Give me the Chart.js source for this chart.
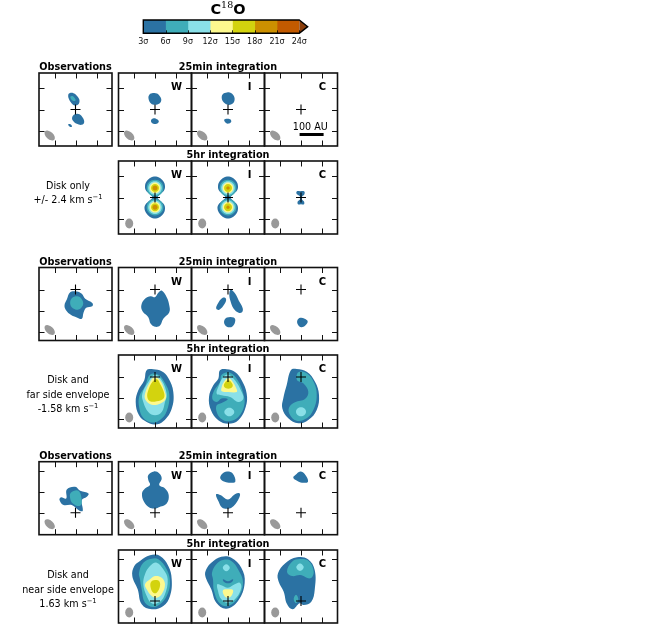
<!DOCTYPE html>
<html>
<head>
<meta charset="utf-8">
<script src="https://cdn.jsdelivr.net/npm/chart.js@4"></script>
<style>
    body { margin: 0; background: #fff; font-family: "DejaVu Sans", sans-serif; color: #000; }
    canvas { position: absolute; }
    .t { position: absolute; white-space: nowrap; line-height: 1; transform: translate(-50%, -50%); }
    .b { font-weight: bold; font-size: 9.7px; }
    .side { font-size: 9.6px; }
    .mark { font-weight: bold; font-size: 10px; }
    sup { font-size: 70%; line-height: 0; }
    #cmap { font-weight: bold; font-size: 14.5px; }
    #cmap sup { font-family: "DejaVu Serif", serif; font-weight: normal; font-size: 9.5px; }
</style>
</head>
<body>
<script>
// colourbar
const levels = [3, 6, 9, 12, 15, 18, 21, 24];
const levelColors = ['#2b72a3', '#3fadb9', '#8ae0e8', '#fdf98e', '#d3d30e', '#cc9000', '#c25a00'];
const overColor = '#8a3d0a';

// tick positions in map offset units, one unit is about a pixel
const xTicks = [-21, 0, 21];
const yTicksMid = [-21, 0, 21];
const yTicksLow = [-42, -21, 0];
const yTicksHigh = [0, 21, 42];

// contours, each one is [level index, [[x, y], ...]]
const obs1 = [
    [0, [[-6, 16.3], [-2, 16.3], [2, 13], [4, 9], [2.7, 5], [-0.7, 4], [-4, 6.3], [-6.7, 10.7], [-7.3, 14.3]]],
    [1, [[-5, 13], [-3, 13.5], [-0.5, 11], [0, 9], [-2, 8.5], [-4.5, 10.5]]],
    [0, [[-0.7, -4.7], [4, -4.7], [7.3, -8.3], [8.7, -12.7], [6.3, -15.3], [1.3, -14.3], [-2.7, -11], [-3.3, -7.7]]],
    [0, [[-7.3, -15], [-5.5, -14.5], [-3.5, -16.5], [-4, -17.5], [-6, -17]]]
];
const w1 = [
    [0, [[-6.5, 11], [-5.5, 15], [-2, 16.5], [2, 16], [5, 13], [6.3, 9.5], [4.5, 6], [0, 4.8], [-4, 6]]],
    [0, [[-4, -11], [-2, -9], [1, -9.2], [3.7, -11.3], [3, -13.5], [0, -14.5], [-3, -13.5]]]
];
const i1 = [
    [0, [[-6.3, 12], [-5, 15.5], [-1, 17], [3, 16.5], [6.3, 12.5], [6, 7.5], [3, 5], [-1, 5], [-5, 8]]],
    [0, [[-3.7, -10], [2, -9.7], [3.3, -12], [1, -14], [-2, -13.5]]]
];
const c1 = [];

const diskOuter = [[-2.5, 0], [-5, 3], [-9, 7], [-10, 11], [-8.5, 16], [-4, 20], [0, 21], [4, 20], [8.5, 16], [10, 11], [9, 7], [5, 3], [2.5, 0], [5, -3], [9, -7], [10, -11], [8.5, -16], [4, -20], [0, -21], [-4, -20], [-8.5, -16], [-10.5, -11], [-9.5, -7], [-5.5, -3]];
const diskRings = [
    [1, [[-8.3, 9.5], [-5.9, 15.4], [0, 17.8], [5.9, 15.4], [8.3, 9.5], [5.9, 3.6], [0, 1.2], [-5.9, 3.6]]],
    [1, [[-8.3, -9.7], [-5.9, -3.8], [0, -1.4], [5.9, -3.8], [8.3, -9.7], [5.9, -15.6], [0, -18], [-5.9, -15.6]]],
    [2, [[-6.8, 9.5], [-4.8, 14.3], [0, 16.3], [4.8, 14.3], [6.8, 9.5], [4.8, 4.7], [0, 2.7], [-4.8, 4.7]]],
    [2, [[-6.8, -9.7], [-4.8, -4.9], [0, -2.9], [4.8, -4.9], [6.8, -9.7], [4.8, -14.5], [0, -16.5], [-4.8, -14.5]]],
    [3, [[-5.4, 9.5], [-3.8, 13.3], [0, 14.9], [3.8, 13.3], [5.4, 9.5], [3.8, 5.7], [0, 4.1], [-3.8, 5.7]]],
    [3, [[-5.4, -9.7], [-3.8, -5.9], [0, -4.3], [3.8, -5.9], [5.4, -9.7], [3.8, -13.5], [0, -15.1], [-3.8, -13.5]]],
    [4, [[-4, 9.5], [-2.8, 12.3], [0, 13.5], [2.8, 12.3], [4, 9.5], [2.8, 6.7], [0, 5.5], [-2.8, 6.7]]],
    [4, [[-4, -9.7], [-2.8, -6.9], [0, -5.7], [2.8, -6.9], [4, -9.7], [2.8, -12.5], [0, -13.7], [-2.8, -12.5]]]
];
const w2 = [
    [0, diskOuter], ...diskRings,
    [5, [[-2.5, 9.5], [-1.8, 11.3], [0, 12], [1.8, 11.3], [2.5, 9.5], [1.8, 7.7], [0, 7], [-1.8, 7.7]]],
    [5, [[-2.5, -9.7], [-1.8, -7.9], [0, -7.2], [1.8, -7.9], [2.5, -9.7], [1.8, -11.5], [0, -12.2], [-1.8, -11.5]]]
];
const i2 = [
    [0, diskOuter], ...diskRings,
    [5, [[-1.8, 9.5], [0, 11.3], [1.8, 9.5], [0, 7.7]]],
    [5, [[-1.8, -9.7], [0, -7.9], [1.8, -9.7], [0, -11.5]]]
];
const c2 = [
    [0, [[-4.3, 6], [-1, 6.3], [3.3, 6], [3.3, 3], [1.3, 1.3], [1, 0], [1, -2], [3, -4], [3, -6.7], [0, -6.7], [-3, -6.7], [-3.3, -4], [-1, -2], [-1, 0], [-1.3, 1.5], [-4.3, 3.5]]]
];

const obs3 = [
    [0, [[-5.3, -2.7], [1.3, -2], [6.3, -4.3], [9.7, -9.3], [17, -13.7], [16.7, -16.7], [10.7, -18.3], [8, -23.3], [6.3, -29.3], [1.3, -28], [-4.7, -25.3], [-9.3, -21], [-11, -16], [-8.7, -10]]],
    [1, [[-3.7, -8.7], [3, -7], [7, -11], [7.3, -16], [3, -20], [-2.7, -18.7], [-5.3, -14.3]]]
];
const w3 = [
    [0, [[0, -7.7], [3.3, -3.3], [6.7, -1], [11.7, -7.7], [14.3, -16], [14.3, -22.7], [8.3, -29.3], [5, -36], [0, -37.3], [-4.3, -34.3], [-6.7, -27.7], [-12.3, -22], [-13.7, -16], [-10, -9.3], [-4.3, -6.7]]]
];
const i3 = [
    [0, [[2.7, -0.3], [7.3, -4.3], [10.7, -11], [14.7, -18.7], [14, -22.7], [10.7, -23.3], [5.7, -19.3], [2.3, -11], [1.3, -4.3]]],
    [0, [[-5.3, -8.3], [-2, -9.3], [-3.3, -14.3], [-8.7, -20.3], [-11.7, -19.3], [-10.7, -15]]],
    [0, [[-1, -28], [5.7, -28], [7.3, -31], [4.7, -36.7], [0, -37.7], [-3.3, -35], [-3.7, -31]]]
];
const c3 = [
    [0, [[-0.7, -28.3], [3.7, -29.3], [6.7, -32], [4.3, -36], [0.3, -37.7], [-3, -35.3], [-3.7, -31]]]
];

const w4 = [
    [0, [[-8.3, 6.7], [-1.7, 7.7], [6.7, 5.7], [13.3, -1], [18.3, -15], [16.7, -31.7], [8.3, -44.3], [0, -47.5], [-8.3, -45], [-16, -38.3], [-19.3, -25], [-16.7, -13.3], [-10.7, -3.3]]],
    [1, [[-5, 2.3], [3.3, 2.3], [10, -6], [14.3, -17.7], [11.7, -34.3], [5, -43], [-3.3, -45.5], [-11.7, -41], [-15.7, -31], [-15.7, -19.3], [-10, -9.3]]],
    [2, [[0, 2.3], [6.7, -3.3], [11.7, -16.7], [10, -25], [6.7, -35], [0, -38.3], [-6.7, -35], [-11.7, -25], [-12.7, -16.7], [-6.7, -5]]],
    [3, [[-4, -3.3], [0, 0], [5, -3.3], [10, -15], [10.7, -21.7], [5, -26.7], [-3.3, -27.7], [-9.3, -23.3], [-10, -16.7]]],
    [4, [[-2.7, -5], [1.7, -2.3], [5, -6.7], [9.3, -16.7], [8.3, -21.7], [1.7, -24.3], [-5, -24.3], [-7.7, -20], [-6.7, -13.3]]]
];
const i4 = [
    [0, [[-8, 6.7], [-1.3, 7.7], [7, 5], [13.7, -3.3], [18.7, -16.7], [17.7, -30], [10.3, -43.3], [0.3, -46.7], [-9.7, -43.3], [-17, -33.3], [-19, -20], [-14.7, -8.3], [-9.7, -1.7]]],
    [1, [[-6.3, 2.3], [2, 4.3], [9.7, -3.3], [15.3, -16.7], [16.3, -28.3], [10.3, -40], [1, -44.3], [-7, -41.7], [-11.3, -35], [-11.3, -28.3], [-6.3, -26], [-0.3, -22.3], [-6.3, -21.5], [-11.3, -25], [-15.7, -21.7], [-13.7, -13.3], [-8, -5]]],
    [2, [[-4.7, 0], [0.3, 2.3], [7, -3.3], [13.7, -15], [15.3, -21.7], [10.3, -25], [2, -20], [-6.3, -18.3], [-11.3, -16.7], [-9.7, -10]]],
    [2, [[-3.7, -35], [-2, -32], [1.3, -30.7], [4.6, -32], [6.3, -35], [4.6, -38], [1.3, -39.3], [-2, -38]]],
    [3, [[-3.7, -4.3], [0.3, -1], [3.7, -3.3], [8.7, -12.3], [8.7, -15], [0.3, -15], [-6.3, -14.3], [-6.3, -10]]],
    [4, [[-3.7, -6.7], [0.3, -3.3], [4.3, -6.7], [4.3, -10], [0.3, -11.7], [-3.7, -10]]]
];
const c4 = [
    [0, [[-10, 7], [-4.3, 8], [5.7, 5.3], [14, -4.7], [18, -18], [15.7, -33], [7.3, -43], [-2.7, -46.3], [-12.7, -41.3], [-18.7, -31.3], [-17.7, -21.3], [-14.3, -8]]],
    [1, [[-2.7, 4.7], [5.7, 3.7], [13.3, -6.3], [15.7, -19.7], [12.3, -33], [5.7, -41.3], [-4.3, -43.7], [-11, -38], [-12, -30.7], [-6, -25.3], [4, -22], [7.3, -14.7], [2.3, -6.3], [-4, -3]]],
    [2, [[-5, -34.7], [-3.5, -31.5], [0, -30.2], [3.5, -31.5], [5, -34.7], [3.5, -38], [0, -39.2], [-3.5, -38]]]
];

const obs5 = [
    [0, [[-8.7, 23.3], [-0.3, 26], [4.7, 22], [13, 19.3], [11.3, 16], [6.3, 12.7], [7.3, 2], [4, 2], [-3.7, 7.7], [-12, 7.7], [-16, 12.7], [-14.7, 15.3], [-9.3, 14.3]]],
    [1, [[-4.7, 20], [3, 22], [6.3, 11], [4, 6.7], [-2.7, 9.3], [-5.3, 14.3]]]
];
const w5 = [
    [0, [[-6.7, 37.7], [-1, 41.3], [4.3, 39.3], [6.7, 34.3], [4.3, 27.7], [10, 24.3], [13.7, 17.7], [11.7, 9.3], [3.3, 5.3], [0, 4.3], [-5.7, 5.3], [-11, 11], [-13, 19.3], [-10, 24.3], [-5, 27.7], [-6.7, 32.7]]]
];
const i5 = [
    [0, [[-6, 38.7], [-1, 41.3], [4.7, 39.3], [7.3, 31], [2.3, 30], [-3.3, 31], [-7.7, 34.3]]],
    [0, [[-12, 18.3], [-7.7, 17.7], [0, 13.3], [7.3, 18.7], [11.7, 19.3], [11.3, 15.3], [5.7, 6.7], [0, 4], [-6, 5.3], [-9.3, 11]]]
];
const c5 = [
    [0, [[-5.7, 37.7], [-0.7, 41.3], [3.7, 38.7], [7, 31], [1, 30], [-4, 32], [-7.7, 35]]]
];

const w6 = [
    [0, [[-15, 40], [-5, 45.7], [5, 45], [13.3, 35], [16.7, 21.7], [15, 5], [8.3, -5], [-3.3, -8.3], [-13.3, -3.3], [-17.3, 11.7], [-22.7, 25], [-20.7, 35]]],
    [1, [[-11.7, 38.3], [-3.3, 42.3], [3.3, 41.7], [11.7, 31.7], [15, 18.3], [11.7, 5], [5, -3.3], [-1.7, -6], [-10, -1.7], [-13.3, 11.7], [-15, 21.7], [-16, 28.3]]],
    [2, [[-5, 35], [1.7, 38.3], [8.3, 31.7], [12.7, 21.7], [9.3, 5], [3.3, -1.7], [-3.3, -2.3], [-8.3, 5], [-11.7, 16.7], [-10, 26.7]]],
    [3, [[-5, 21.7], [0, 25], [6.7, 23.3], [10, 16.7], [6.7, 6.7], [1.7, 3.3], [-3.3, 5], [-8.3, 11.7], [-10, 16.7]]],
    [4, [[-4, 19], [0, 21], [4, 20], [5, 15], [1.7, 8.3], [-1.7, 8.3], [-4.3, 13.3]]]
];
const i6 = [
    [0, [[-16.7, 38.3], [-6.7, 44.3], [3.3, 43.3], [13.3, 33.3], [16.7, 18.3], [10, 0], [-1.7, -7.7], [-11.7, -1.7], [-16.7, 11.7], [-22.7, 25], [-21.7, 31.7]]],
    [1, [[-11.7, 36.7], [-5, 41], [3.3, 40], [10, 31.7], [15, 18.3], [10, 3.3], [0, -5], [-8.3, -2.3], [-14, 10], [-15, 21.7], [-16, 28.3]]],
    [0, [[-5, 21.7], [0, 19.7], [5, 21.7], [4, 19], [0, 17.7], [-4, 19]]],
    [2, [[-5.2, 33.3], [-1.7, 36.8], [1.8, 33.3], [-1.7, 29.8]]],
    [2, [[-10.7, 16.7], [-6.7, 15.7], [0, 13.3], [6.7, 16.7], [11.7, 18.3], [13.3, 13.3], [8.3, 3.3], [0, -1.7], [-6.7, 1.7], [-10, 10]]],
    [3, [[-5, 10.7], [0, 11.7], [5, 11], [3.3, 5], [-0.7, 3.3], [-4, 5.7]]]
];
const c6 = [
    [0, [[-15.7, 37.7], [-4, 43.7], [7, 41.7], [13.7, 31], [13.7, 11], [10.3, -0.7], [2.7, -4], [-1.3, -2.3], [-8.3, -8.3], [-14, -3], [-17.3, 9.3], [-22.3, 19.3], [-23, 27.7]]],
    [1, [[-14, 29.3], [-9, 39.3], [-0.7, 42], [7.7, 40], [12.7, 29.3], [9.3, 22.7], [-0.7, 26], [-9, 25]]],
    [2, [[-4.7, 33.7], [-1, 37.4], [2.7, 33.7], [-1, 30]]],
    [1, [[-7.3, 2], [-5, 6.3], [-2.7, 2], [-5, -2.3]]]
];

const scaleBar = [[-1.4, -25], [22.6, -25]];

const BOX = 73;
const PAD = 4;
const colLefts = [39, 118.5, 191.5, 264.5];

// fills a contour, the line has one extra point on each end so the spline closes without a kink
const contourFill = {
    id: 'contourFill',
    beforeDatasetDraw(chart, args) {
        if (!chart.data.datasets[args.index].contour) return;
        const line = args.meta.dataset;
        const ctx = chart.ctx;
        ctx.save();
        ctx.beginPath();
        line.path(ctx, 1, line.points.length - 2);
        ctx.closePath();
        ctx.fillStyle = line.options.backgroundColor;
        ctx.fill();
        ctx.restore();
    }
};

const framePlugin = {
    id: 'frame',
    afterDatasetsDraw(chart) {
        const { ctx, chartArea: a, scales: { x, y } } = chart;
        const o = chart.options.plugins.frame;
        ctx.save();
        ctx.fillStyle = '#999';
        ctx.beginPath();
        ctx.ellipse(a.left + 10.7, a.bottom - 10.5, o.beam[0], o.beam[1], o.beam[2] * Math.PI / 180, 0, Math.PI * 2);
        ctx.fill();
        ctx.strokeStyle = '#111';
        ctx.lineWidth = 1;
        ctx.beginPath();
        xTicks.forEach((v) => {
            const px = Math.round(x.getPixelForValue(v)) + 0.5;
            ctx.moveTo(px, a.top);
            ctx.lineTo(px, a.top + 5.5);
            ctx.moveTo(px, a.bottom);
            ctx.lineTo(px, a.bottom - 5.5);
        });
        o.yTicks.forEach((v) => {
            const py = Math.round(y.getPixelForValue(v)) + 0.5;
            ctx.moveTo(a.left, py);
            ctx.lineTo(a.left + 5.5, py);
            ctx.moveTo(a.right, py);
            ctx.lineTo(a.right - 5.5, py);
        });
        ctx.stroke();
        ctx.lineWidth = 1.6;
        ctx.strokeRect(a.left, a.top, a.right - a.left, a.bottom - a.top);
        ctx.restore();
    }
};

const barEnds = {
    id: 'barEnds',
    afterDatasetsDraw(chart) {
        const { ctx, chartArea: a, scales: { x } } = chart;
        const end = x.getPixelForValue(24);
        const tip = x.getPixelForValue(25.13);
        const mid = (a.top + a.bottom) / 2;
        ctx.save();
        ctx.beginPath();
        ctx.moveTo(end, a.top);
        ctx.lineTo(tip, mid);
        ctx.lineTo(end, a.bottom);
        ctx.closePath();
        ctx.fillStyle = overColor;
        ctx.fill();
        ctx.strokeStyle = '#000';
        ctx.lineWidth = 1.4;
        ctx.beginPath();
        ctx.moveTo(end, a.top);
        ctx.lineTo(tip, mid);
        ctx.lineTo(end, a.bottom);
        ctx.lineTo(a.left, a.bottom);
        ctx.lineTo(a.left, a.top);
        ctx.closePath();
        ctx.stroke();
        ctx.lineWidth = 0.8;
        ctx.beginPath();
        levels.slice(1).forEach((v) => {
            const px = Math.round(x.getPixelForValue(v)) + 0.5;
            ctx.moveTo(px, a.bottom);
            ctx.lineTo(px, a.bottom - 3);
        });
        ctx.stroke();
        ctx.restore();
    }
};

function addText(html, x, y, cls, id) {
    const el = document.createElement('div');
    el.className = 't ' + cls;
    if (id) el.id = id;
    el.innerHTML = html;
    el.style.left = x + 'px';
    el.style.top = y + 'px';
    document.body.appendChild(el);
}

function addPanel(contours, col, top, yMin, yMax, yTicks, beam, extra) {
    const left = colLefts[col];
    const canvas = document.createElement('canvas');
    const cLeft = Math.floor(left) - PAD;
    const cTop = Math.floor(top) - PAD;
    canvas.width = BOX + PAD * 2 + 1;
    canvas.height = BOX + PAD * 2 + 1;
    canvas.style.left = cLeft + 'px';
    canvas.style.top = cTop + 'px';
    document.body.appendChild(canvas);

    const datasets = [{
        data: [{ x: 0, y: 0 }],
        pointStyle: 'cross',
        pointRadius: 5,
        pointBorderColor: '#000',
        pointBorderWidth: 1.1,
        showLine: false,
        order: -1
    }];
    contours.forEach(([lev, pts], i) => {
        const wrapped = [pts[pts.length - 1], ...pts, pts[0], pts[1]];
        datasets.push({
            data: wrapped.map(([x, y]) => ({ x, y })),
            contour: true,
            showLine: true,
            tension: 0.4,
            backgroundColor: levelColors[lev],
            borderWidth: 0,
            pointRadius: 0,
            order: contours.length - i
        });
    });
    if (extra) {
        datasets.push({
            data: extra.map(([x, y]) => ({ x, y })),
            showLine: true,
            borderColor: '#000',
            borderWidth: 3,
            pointRadius: 0,
            order: -2
        });
    }

    new Chart(canvas, {
        type: 'scatter',
        data: { datasets },
        options: {
            responsive: false,
            animation: false,
            events: [],
            layout: {
                autoPadding: false,
                padding: {
                    left: left - cLeft,
                    top: top - cTop,
                    right: canvas.width - (left - cLeft) - BOX,
                    bottom: canvas.height - (top - cTop) - BOX
                }
            },
            plugins: {
                legend: { display: false },
                tooltip: { enabled: false },
                frame: { yTicks, beam }
            },
            scales: {
                x: { display: false, min: -36.5, max: 36.5 },
                y: { display: false, min: yMin, max: yMax }
            }
        },
        plugins: [contourFill, framePlugin]
    });
}

const obsBeam = [6.2, 3.6, 42];
const simBeam = [4, 4.9, 0];
const letters = ['W', 'I', 'C'];

function addBlock(obsTop, simTop, yMin, yMax, yTicks, obsMap, obsRow, simRow, sideLines, sideYs) {
    addPanel(obsMap, 0, obsTop, yMin, yMax, yTicks, obsBeam);
    obsRow.forEach((c, i) => {
        addPanel(c, i + 1, obsTop, yMin, yMax, yTicks, obsBeam, (i === 2 && obsTop < 100) ? scaleBar : null);
        addText(letters[i], colLefts[i + 1] + 58, obsTop + 14.2, 'mark');
    });
    simRow.forEach((c, i) => {
        addPanel(c, i + 1, simTop, yMin, yMax, yTicks, simBeam);
        addText(letters[i], colLefts[i + 1] + 58, simTop + 14.2, 'mark');
    });
    addText('Observations', 75.5, obsTop - 6, 'b');
    addText('25min integration', 228, obsTop - 6, 'b');
    addText('5hr integration', 228, simTop - 6, 'b');
    sideLines.forEach((s, i) => addText(s, 68, sideYs[i], 'side'));
}

addBlock(73, 161, -36.5, 36.5, yTicksMid, obs1, [w1, i1, c1], [w2, i2, c2],
    ['Disk only', '+/- 2.4 km s<sup>\u22121</sup>'], [186, 200]);
addBlock(267.5, 355, -51, 22, yTicksLow, obs3, [w3, i3, c3], [w4, i4, c4],
    ['Disk and', 'far side envelope', '-1.58 km s<sup>\u22121</sup>'], [380, 395, 409]);
addBlock(461.7, 550, -22, 51, yTicksHigh, obs5, [w5, i5, c5], [w6, i6, c6],
    ['Disk and', 'near side envelope', '1.63 km s<sup>\u22121</sup>'], [575, 590, 604]);

addText('100 AU', 310.3, 126.7, 'side');
addText('C<sup>18</sup>O', 228, 9, '', 'cmap');

// colourbar as floating horizontal bars
const barCanvas = document.createElement('canvas');
barCanvas.width = 220;
barCanvas.height = 40;
barCanvas.style.left = '120px';
barCanvas.style.top = '10px';
document.body.appendChild(barCanvas);

new Chart(barCanvas, {
    type: 'bar',
    data: {
        labels: ['C18O'],
        datasets: levelColors.map((c, i) => ({
            data: [[levels[i], levels[i + 1]]],
            backgroundColor: c,
            grouped: false,
            barPercentage: 1,
            categoryPercentage: 1
        }))
    },
    options: {
        indexAxis: 'y',
        responsive: false,
        animation: false,
        events: [],
        layout: { autoPadding: false, padding: { left: 23.3, right: 40.7, top: 10, bottom: 0.7 } },
        plugins: { legend: { display: false }, tooltip: { enabled: false } },
        scales: {
            y: { display: false },
            x: {
                min: 3,
                max: 24,
                border: { display: false },
                grid: { display: false, drawTicks: false },
                afterFit: (axis) => { axis.height = 16; axis.paddingLeft = 0; axis.paddingRight = 0; },
                afterBuildTicks: (axis) => { axis.ticks = levels.map((v) => ({ value: v })); },
                ticks: {
                    autoSkip: false,
                    maxRotation: 0,
                    padding: 4,
                    color: '#111',
                    font: { family: 'DejaVu Sans', size: 8 },
                    callback: (v) => v + 'σ'
                }
            }
        }
    },
    plugins: [barEnds]
});
</script>
</body>
</html>
